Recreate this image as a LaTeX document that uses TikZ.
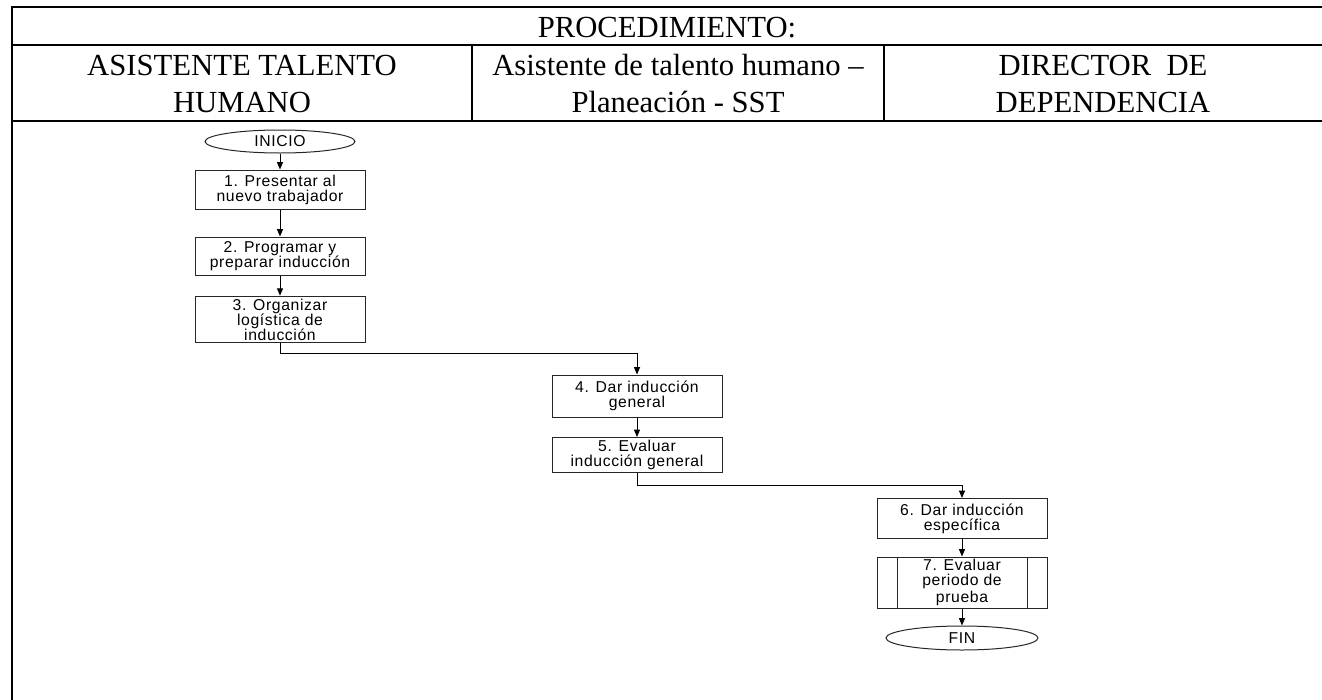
\documentclass[tikz,border=0pt]{standalone}
\usepackage{fontspec}
\setmainfont{Liberation Serif}
\newfontfamily\boxfont[LetterSpace=4]{Liberation Sans}
\usetikzlibrary{shapes.geometric,arrows.meta,calc}
\begin{document}
\begin{tikzpicture}[x=0.75pt,y=-0.75pt,
  hdr/.style={anchor=base,inner sep=0pt,font=\fontsize{23}{27.75}\selectfont},
  tblthick/.style={line width=1.8pt,line cap=rect},
  tbl/.style={line width=1.4pt},
  tbldiv/.style={line width=1.1pt},
  boxtext/.style={font=\boxfont\fontsize{11.8}{11.3}\selectfont},
  proc/.style={draw=black!85,line width=0.75pt,minimum width=127.5pt,inner sep=0pt,align=center,boxtext},
  term/.style={ellipse,draw=black!85,line width=0.75pt,minimum width=112.5pt,minimum height=17.25pt,inner sep=0pt,boxtext},
  predef/.style={proc,path picture={\draw[draw=black!85,line width=0.75pt]
      ([xshift=15pt]path picture bounding box.north west) -- ([xshift=15pt]path picture bounding box.south west)
      ([xshift=-15pt]path picture bounding box.north east) -- ([xshift=-15pt]path picture bounding box.south east);}},
  flow/.style={line width=0.75pt,-{Triangle[length=5.5pt,width=4.5pt]}}
]
\useasboundingbox (0,0) rectangle (1322,700);
\clip (0,0) rectangle (1322,700);
% table
\draw[tblthick] (1330,7) -- (12,7) -- (12,705);
\draw[tbl] (12,45) -- (1330,45);
\draw[tbl] (12,121) -- (1330,121);
\draw[tbldiv] (472,45) -- (472,121);
\draw[tbldiv] (884,45) -- (884,121);
% headers
\node[hdr] (title) at (667,37) {PROCEDIMIENTO:};
\node[hdr] (h1a) at (242,75) {ASISTENTE TALENTO};
\node[hdr] (h1b) at (242,112) {HUMANO};
\node[hdr] (h2a) at (678,75) {Asistente de talento humano --};
\node[hdr] (h2b) at (678,112) {Planeación - SST};
\node[hdr] (h3a) at (1103,75) {DIRECTOR\ \ DE};
\node[hdr] (h3b) at (1103,112) {DEPENDENCIA};
% flow
\node[term] (ini) at (280,141.5) {INICIO};
\node[proc,minimum height=29.25pt] (b1) at (280,189.5) {1. Presentar al\\nuevo\ trabajador};
\node[proc,minimum height=28.5pt] (b2) at (280,256) {2. Programar y\\preparar inducción};
\node[proc,minimum height=35pt] (b3) at (280,319.5) {3. Organizar\\logística de\\inducción};
\node[proc,minimum height=31.5pt] (b4) at (637,396) {4. Dar inducción\\general};
\node[proc,minimum height=26.25pt] (b5) at (637,455) {5. Evaluar\\inducción general};
\node[proc,minimum height=30pt] (b6) at (962,518.5) {6. Dar inducción\\específica};
\node[predef,minimum height=38.25pt] (b7) at (962,582.5) {7. Evaluar\\periodo de\\[1pt]prueba};
\node[term,minimum width=114pt,minimum height=18pt] (fin) at (962,638) {FIN};
\draw[flow] (ini) -- (b1);
\draw[flow] (b1) -- (b2);
\draw[flow] (b2) -- (b3);
\draw[flow] (b3.south) -- ++(0,10) -| (b4.north);
\draw[flow] (b4) -- (b5);
\draw[flow] (b5.south) -- ++(0,12.5) -| (b6.north);
\draw[flow] (b6) -- (b7);
\draw[flow] (b7) -- (fin);
\end{tikzpicture}
\end{document}
